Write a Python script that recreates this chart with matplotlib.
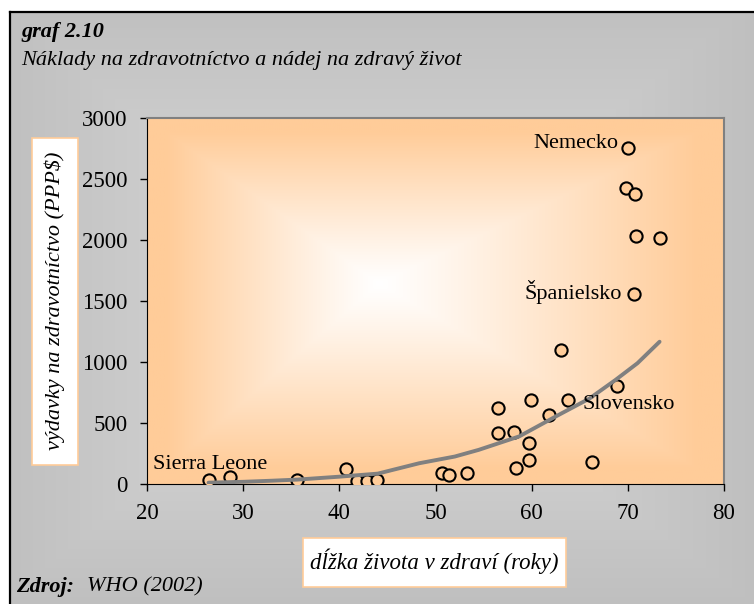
import numpy as np
import matplotlib
matplotlib.use("Agg")
import matplotlib.pyplot as plt
from matplotlib.patches import Rectangle

# ---------------- data ----------------
life_exp = [26.4, 28.6, 35.6, 40.65, 41.85, 42.9, 43.96, 50.7, 51.4, 53.3,
            56.5, 56.5, 58.2, 58.4, 59.7, 59.7, 59.9, 61.8, 63.0, 63.8,
            66.3, 68.9, 69.8, 70.05, 70.6, 70.7, 70.9, 73.3]
spending = [33, 55, 33, 120, 27, 27, 33, 88, 74, 88,
            626, 415, 429, 134, 333, 197, 689, 563, 1098, 689,
            183, 806, 2429, 2757, 1555, 2377, 2033, 2019]

trend_x = [26.4, 30, 33, 35.6, 40, 44, 48.3, 52, 54.5, 58.7, 62.8, 66, 68.7, 71, 73.3]
trend_y = [11, 18, 27, 36, 60, 85, 170, 225, 280, 390, 566, 700, 852, 990, 1166]

annotations = [("Nemecko", 69.0, 2795, "right"),
               ("Španielsko", 69.35, 1576, "right"),
               ("Slovensko", 65.3, 648, "left"),
               ("Sierra Leone", 20.6, 156, "left")]

x_ticks = [20, 30, 40, 50, 60, 70, 80]
y_ticks = [0, 500, 1000, 1500, 2000, 2500, 3000]

title = "graf 2.10"
subtitle = "Náklady na zdravotníctvo a nádej na zdravý život"
xlabel = "dĺžka života v zdraví (roky)"
ylabel = "výdavky na zdravotníctvo (PPP$)"

FS = 16

# ---------------- figure ----------------
W, H = 754, 604
fig = plt.figure(figsize=(W / 100, H / 100), dpi=100)
plt.rcParams['font.family'] = ['Liberation Serif', 'DejaVu Serif']

# background gray gradient
bg = fig.add_axes([0, 0, 1, 1], zorder=-10)
bg.set_axis_off()
yy, xx = np.mgrid[0:H, 0:W]
cx, cy = 360, 310
tx = np.where(xx < cx, (cx - xx) / cx, (xx - cx) / (W - cx))
ty = np.where(yy < cy, (cy - yy) / cy, (yy - cy) / (H - cy))
t = np.clip(np.maximum(tx, ty), 0, 1)
inner, outer = 0.87, 0.75
g = inner + (outer - inner) * t
img = np.dstack([g, g, g])
img[:12, :, :] = 1.0
img[:, :10, :] = 1.0
bg.imshow(img, extent=[0, W, H, 0], aspect='auto', interpolation='bilinear')
bg.set_xlim(0, W)
bg.set_ylim(H, 0)
bg.plot([10, 10], [12, H + 5], color='black', lw=1.6)
bg.plot([10, W + 5], [12, 12], color='black', lw=1.6)

# main axes
L, R, T, B = 147, 724, 118, 484
ax = fig.add_axes([L / W, 1 - B / H, (R - L) / W, (B - T) / H])
ax.set_facecolor('none')

# plot-area gradient (white centre -> peach edges)
ny, nx = 200, 300
gy, gx = np.mgrid[0:ny, 0:nx].astype(float)
pcx, pcy = nx * 0.40, ny * 0.45
px_ = np.where(gx < pcx, (pcx - gx) / pcx, (gx - pcx) / (nx - pcx))
py_ = np.where(gy < pcy, (pcy - gy) / pcy, (gy - pcy) / (ny - pcy))
tt = np.clip(np.maximum(px_, py_) / 0.92, 0, 1) ** 1.1
peach = np.array([255, 204, 153]) / 255.0
white = np.array([1.0, 1.0, 1.0])
pimg = white[None, None, :] + (peach - white)[None, None, :] * tt[..., None]
ax.imshow(pimg, extent=[20, 80, 0, 3000], aspect='auto', zorder=0,
          interpolation='bilinear', origin='upper')

ax.scatter(life_exp, spending, s=(8.8) ** 2, facecolor='#FFCC99',
           edgecolor='black', linewidths=1.5, zorder=3)
ax.plot(trend_x, trend_y, color='#808080', lw=2.8, zorder=4,
        solid_capstyle='round')

for txt, x, y, ha in annotations:
    ax.text(x, y, txt, ha=ha, va='center', fontsize=FS, zorder=5)

ax.set_xlim(20, 80)
ax.set_ylim(0, 3000)
ax.set_xticks(x_ticks)
ax.set_yticks(y_ticks)
ax.tick_params(direction='out', length=5, width=1, labelsize=FS + 0.5, pad=9)
ax.spines['top'].set_color('#808080')
ax.spines['right'].set_color('#808080')
ax.spines['top'].set_linewidth(1.5)
ax.spines['right'].set_linewidth(1.5)
ax.spines['bottom'].set_color('black')
ax.spines['left'].set_color('black')

# title / subtitle
fig.text(21 / W, 1 - 32 / H, title, fontsize=FS, fontweight='bold',
         fontstyle='italic', va='center', ha='left')
fig.text(21 / W, 1 - 60 / H, subtitle, fontsize=FS, fontstyle='italic',
         va='center', ha='left')

# axis label boxes
fig.patches.append(Rectangle((32 / W, 1 - 465 / H), 46 / W, 327 / H,
                             transform=fig.transFigure, facecolor='white',
                             edgecolor='#FFCC99', lw=1.2, zorder=1))
fig.text(55 / W, 1 - 301 / H, ylabel, rotation=90, fontsize=FS,
         fontstyle='italic', ha='center', va='center', zorder=2)

fig.patches.append(Rectangle((303 / W, 1 - 587 / H), 263 / W, 49 / H,
                             transform=fig.transFigure, facecolor='white',
                             edgecolor='#FFCC99', lw=1.2, zorder=1))
fig.text(434 / W, 1 - 561 / H, xlabel, fontsize=FS + 0.5, fontstyle='italic',
         ha='center', va='center', zorder=2)

# source
fig.text(16 / W, 1 - 587 / H, "Zdroj:", fontsize=FS, fontweight='bold',
         fontstyle='italic', ha='left', va='center')
fig.text(87 / W, 1 - 587 / H, "WHO (2002)", fontsize=FS,
         fontstyle='italic', ha='left', va='center')

fig.savefig("out.png", dpi=100)
